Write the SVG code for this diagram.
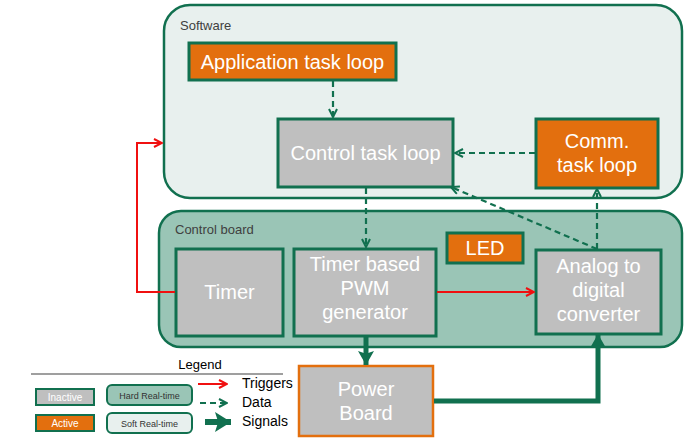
<svg xmlns="http://www.w3.org/2000/svg" width="697" height="442" viewBox="0 0 697 442">
<defs>
<style>
text{font-family:"Liberation Sans",Arial,sans-serif}
.node{fill:#BFBFBF;stroke:#11704F;stroke-width:3}
.act{fill:#E36F0E;stroke:#11704F;stroke-width:3}
.t{fill:#FFFFFF;font-size:20px;text-anchor:middle}
.lbl{fill:#404040;font-size:13px}
.red{stroke:#F01010;stroke-width:2;fill:none}
.data{stroke:#11704F;stroke-width:2.2;fill:none;stroke-dasharray:6 4}
.sig{stroke:#11704F;stroke-width:5;fill:none}
</style>
<marker id="ar" viewBox="0 0 10 10" refX="9" refY="5" markerWidth="10" markerHeight="10" markerUnits="userSpaceOnUse" orient="auto"><path d="M1,1 L9,5 L1,9" fill="none" stroke="#F01010" stroke-width="2"/></marker>
<marker id="ad" viewBox="0 0 10 10" refX="9" refY="5" markerWidth="10" markerHeight="10" markerUnits="userSpaceOnUse" orient="auto"><path d="M1,1 L9,5 L1,9" fill="none" stroke="#11704F" stroke-width="2"/></marker>
<marker id="as" viewBox="0 0 10 10" refX="10" refY="5" markerWidth="14" markerHeight="16" markerUnits="userSpaceOnUse" orient="auto" preserveAspectRatio="none"><path d="M0,0 L10,5 L0,10 L2,5 Z" fill="#11704F"/></marker>
<marker id="asl" viewBox="0 0 10 10" refX="10" refY="5" markerWidth="16" markerHeight="20" markerUnits="userSpaceOnUse" orient="auto" preserveAspectRatio="none"><path d="M0,0 L10,5 L0,10 L2,5 Z" fill="#11704F"/></marker>
</defs>

<g id="software">
<rect x="164" y="5" width="518" height="193" rx="26" fill="#E8F0EE" stroke="#11704F" stroke-width="2.5"/>
<text class="lbl" x="180" y="30">Software</text>
</g>
<g id="controlboard">
<rect x="159" y="211" width="523" height="136" rx="22" fill="#9AC5B6" stroke="#11704F" stroke-width="2.5"/>
<text class="lbl" x="175" y="234">Control board</text>
</g>

<g id="app"><rect class="act" x="189" y="43" width="207" height="37"/><text class="t" x="292.5" y="69">Application task loop</text></g>
<g id="ctrl"><rect class="node" x="278" y="119" width="175" height="68"/><text class="t" x="365.5" y="160">Control task loop</text></g>
<g id="comm"><rect class="act" x="536" y="119" width="122" height="69"/><text class="t" x="597" y="148">Comm.</text><text class="t" x="597" y="172">task loop</text></g>
<g id="led"><rect class="act" x="447" y="233" width="76" height="30"/><text class="t" x="485" y="255">LED</text></g>
<g id="timer"><rect class="node" x="176" y="249" width="107" height="87"/><text class="t" x="229.5" y="299">Timer</text></g>
<g id="pwm"><rect class="node" x="294" y="249" width="142" height="87"/><text class="t" x="365" y="271">Timer based</text><text class="t" x="365" y="295">PWM</text><text class="t" x="365" y="319">generator</text></g>
<g id="adc"><rect class="node" x="536" y="250" width="125" height="84"/><text class="t" x="598.5" y="273">Analog to</text><text class="t" x="598.5" y="297">digital</text><text class="t" x="598.5" y="321">converter</text></g>
<g id="power"><rect x="299" y="366" width="134" height="70" fill="#BFBFBF" stroke="#E36F0E" stroke-width="2.5"/><text class="t" x="366" y="396">Power</text><text class="t" x="366" y="420">Board</text></g>

<g id="connectors">
<path class="data" d="M333,81 V117" marker-end="url(#ad)"/>
<path class="data" d="M535,153 H455" marker-end="url(#ad)"/>
<path class="data" d="M597,249 L451,187" marker-end="url(#ad)"/>
<path class="data" d="M597,249 V189" marker-end="url(#ad)"/>
<path class="data" d="M366,188 V247" marker-end="url(#ad)"/>
<path class="red" d="M175,292 H137 V143 H162" marker-end="url(#ar)"/>
<path class="red" d="M437,292 H534" marker-end="url(#ar)"/>
<path class="sig" d="M366,337 V365" marker-end="url(#as)"/>
<path class="sig" d="M434,401 H598 V334" marker-end="url(#as)"/>
</g>

<g id="legend">
<text x="200" y="369" font-size="13" fill="#000" text-anchor="middle">Legend</text>
<line x1="31" y1="374" x2="283" y2="374" stroke="#404040" stroke-width="1.2"/>
<rect x="36" y="389" width="58" height="16" fill="#BFBFBF" stroke="#11704F" stroke-width="2"/>
<text x="65" y="401" font-size="10" fill="#FFFFFF" text-anchor="middle">Inactive</text>
<rect x="36" y="415" width="58" height="16" fill="#E36F0E" stroke="#11704F" stroke-width="2"/>
<text x="65" y="427" font-size="10" fill="#FFFFFF" text-anchor="middle">Active</text>
<rect x="107" y="385" width="85" height="20" rx="5" fill="#9AC5B6" stroke="#11704F" stroke-width="2"/>
<text x="149.5" y="398.5" font-size="9" fill="#333" text-anchor="middle">Hard Real-time</text>
<rect x="107" y="413" width="85" height="20" rx="5" fill="#E8F0EE" stroke="#11704F" stroke-width="2"/>
<text x="149.5" y="426.5" font-size="9" fill="#333" text-anchor="middle">Soft Real-time</text>
<path class="red" d="M198,384 H227" marker-end="url(#ar)"/>
<path class="data" d="M200,403 H227" stroke-dasharray="5 3" marker-end="url(#ad)"/>
<path d="M205,422 H231" stroke="#11704F" stroke-width="6" fill="none" marker-end="url(#asl)"/>
<text x="242" y="388" font-size="14" fill="#000">Triggers</text>
<text x="242" y="407" font-size="14" fill="#000">Data</text>
<text x="242" y="426" font-size="14" fill="#000">Signals</text>
</g>
</svg>
